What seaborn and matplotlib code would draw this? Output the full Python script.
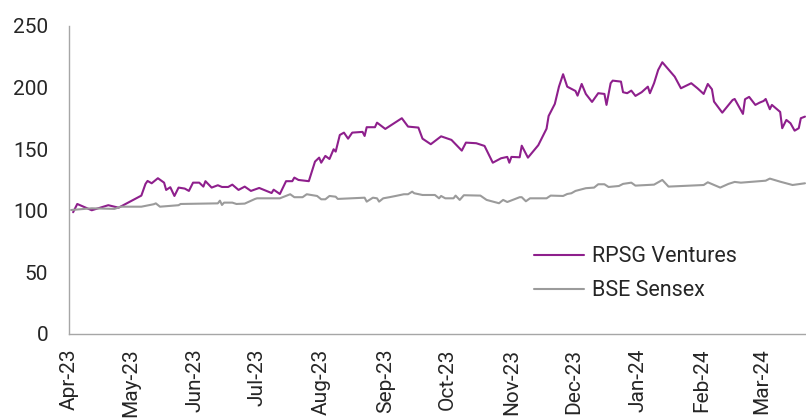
import matplotlib
matplotlib.use("Agg")
import matplotlib.pyplot as plt
import matplotlib.dates as mdates
from matplotlib.lines import Line2D
import pandas as pd
import seaborn as sns

# RPSG Ventures vs BSE Sensex, rebased to 100
rpsg_dates = [
    "2023-04-03", "2023-04-05", "2023-04-12", "2023-04-20", "2023-04-25", "2023-05-06",
    "2023-05-08", "2023-05-09", "2023-05-11", "2023-05-14", "2023-05-17", "2023-05-18",
    "2023-05-20", "2023-05-22", "2023-05-24", "2023-05-27", "2023-05-29", "2023-05-31",
    "2023-06-03", "2023-06-05", "2023-06-06", "2023-06-09", "2023-06-12", "2023-06-14",
    "2023-06-17", "2023-06-19", "2023-06-22", "2023-06-25", "2023-06-28", "2023-07-02",
    "2023-07-08", "2023-07-09", "2023-07-12", "2023-07-15", "2023-07-18", "2023-07-19",
    "2023-07-21", "2023-07-26", "2023-07-29", "2023-07-31", "2023-08-01", "2023-08-03",
    "2023-08-05", "2023-08-07", "2023-08-08", "2023-08-10", "2023-08-12", "2023-08-14",
    "2023-08-16", "2023-08-21", "2023-08-22", "2023-08-23", "2023-08-27", "2023-08-28",
    "2023-09-01", "2023-09-09", "2023-09-12", "2023-09-17", "2023-09-19", "2023-09-23",
    "2023-09-28", "2023-10-03", "2023-10-08", "2023-10-10", "2023-10-15", "2023-10-19",
    "2023-10-23", "2023-10-27", "2023-10-30", "2023-10-31", "2023-11-01", "2023-11-05",
    "2023-11-06", "2023-11-09", "2023-11-14", "2023-11-18", "2023-11-19", "2023-11-22",
    "2023-11-24", "2023-11-26", "2023-11-28", "2023-12-02", "2023-12-03", "2023-12-05",
    "2023-12-07", "2023-12-10", "2023-12-13", "2023-12-16", "2023-12-17", "2023-12-19",
    "2023-12-20", "2023-12-24", "2023-12-25", "2023-12-27", "2023-12-29", "2023-12-31",
    "2024-01-03", "2024-01-06", "2024-01-07", "2024-01-09", "2024-01-11", "2024-01-13",
    "2024-01-19", "2024-01-22", "2024-01-27", "2024-01-30", "2024-02-02", "2024-02-04",
    "2024-02-06", "2024-02-07", "2024-02-11", "2024-02-16", "2024-02-17", "2024-02-21",
    "2024-02-22", "2024-02-24", "2024-02-27", "2024-02-29", "2024-03-02", "2024-03-03",
    "2024-03-05", "2024-03-06", "2024-03-10", "2024-03-11", "2024-03-13", "2024-03-15",
    "2024-03-17", "2024-03-19", "2024-03-20", "2024-03-22",
]
rpsg_values = [
    98.8, 105.5, 100.4, 104.5, 102.5, 112.3,
    121.8, 124.2, 122.3, 126.4, 122.8, 116.9,
    119.1, 112.0, 118.8, 118.0, 116.1, 122.8,
    122.8, 119.6, 124.0, 118.8, 120.7, 119.3,
    119.3, 121.2, 116.9, 119.6, 116.1, 118.5,
    114.4, 117.1, 113.6, 124.0, 124.0, 126.9,
    125.0, 124.0, 139.9, 143.1, 139.0, 144.5,
    142.0, 149.9, 148.0, 161.5, 163.4, 158.5,
    163.4, 164.0, 160.7, 167.8, 167.8, 171.5,
    166.4, 175.1, 168.3, 167.5, 158.5, 154.0,
    160.4, 157.5, 148.8, 155.3, 154.8, 152.6,
    139.0, 142.6, 143.7, 139.0, 143.7, 143.4,
    152.8, 143.1, 153.2, 166.6, 176.9, 186.7,
    200.7, 210.8, 200.7, 197.2, 193.4, 202.9,
    194.8, 188.3, 195.4, 194.8, 185.9, 203.5,
    205.6, 204.8, 196.2, 195.4, 197.5, 193.2,
    196.2, 200.7, 195.4, 203.5, 214.3, 220.5,
    208.8, 199.4, 203.5, 199.4, 194.8, 202.9,
    198.6, 188.6, 179.6, 189.9, 190.7, 178.6,
    190.5, 192.4, 185.9, 187.7, 189.1, 190.7,
    182.4, 185.9, 180.2, 167.0, 173.7, 171.0,
    165.0, 167.0, 175.1, 176.4,
]

sensex_dates = [
    "2023-04-02", "2023-04-12", "2023-04-23", "2023-04-26", "2023-05-06", "2023-05-12",
    "2023-05-13", "2023-05-15", "2023-05-24", "2023-05-25", "2023-06-12", "2023-06-13",
    "2023-06-14", "2023-06-15", "2023-06-19", "2023-06-21", "2023-06-25", "2023-06-30",
    "2023-07-01", "2023-07-12", "2023-07-17", "2023-07-19", "2023-07-23", "2023-07-25",
    "2023-07-30", "2023-08-01", "2023-08-03", "2023-08-05", "2023-08-08", "2023-08-09",
    "2023-08-22", "2023-08-23", "2023-08-26", "2023-08-28", "2023-08-29", "2023-08-31",
    "2023-09-03", "2023-09-06", "2023-09-10", "2023-09-12", "2023-09-14", "2023-09-15",
    "2023-09-19", "2023-09-25", "2023-09-27", "2023-09-28", "2023-09-30", "2023-10-04",
    "2023-10-05", "2023-10-07", "2023-10-09", "2023-10-17", "2023-10-20", "2023-10-26",
    "2023-10-28", "2023-10-30", "2023-11-05", "2023-11-06", "2023-11-08", "2023-11-10",
    "2023-11-18", "2023-11-20", "2023-11-26", "2023-11-28", "2023-11-30", "2023-12-02",
    "2023-12-07", "2023-12-11", "2023-12-13", "2023-12-16", "2023-12-18", "2023-12-23",
    "2023-12-25", "2023-12-29", "2023-12-31", "2024-01-09", "2024-01-13", "2024-01-16",
    "2024-02-02", "2024-02-04", "2024-02-10", "2024-02-14", "2024-02-17", "2024-02-20",
    "2024-03-03", "2024-03-05", "2024-03-10", "2024-03-16", "2024-03-22",
]
sensex_values = [
    100.6, 102.0, 101.5, 103.3, 103.3, 105.3,
    106.0, 103.3, 104.5, 105.5, 106.0, 108.2,
    104.7, 106.6, 106.6, 105.5, 105.8, 109.6,
    110.1, 110.1, 113.4, 111.0, 111.0, 113.4,
    112.0, 109.3, 109.3, 112.0, 111.4, 109.6,
    110.6, 107.4, 110.6, 110.1, 107.4, 110.1,
    111.0, 112.0, 113.4, 113.4, 115.5, 114.2,
    112.8, 112.8, 110.1, 112.0, 110.1, 110.1,
    112.3, 108.8, 112.6, 112.3, 108.8, 106.1,
    108.8, 107.1, 111.0, 111.0, 107.7, 110.1,
    110.1, 112.3, 112.0, 113.6, 114.2, 116.1,
    118.3, 118.8, 121.5, 121.5, 119.3, 120.1,
    121.8, 122.8, 120.4, 121.2, 125.0, 119.6,
    120.9, 123.1, 118.8, 121.8, 123.4, 122.8,
    124.4, 126.1, 123.6, 120.9, 122.3,
]

series_names = ["RPSG Ventures", "BSE Sensex"]
colors = ["#8E1F8C", "#9B9B9B"]

df = pd.concat([
    pd.DataFrame({"date": pd.to_datetime(rpsg_dates), "value": rpsg_values, "series": series_names[0]}),
    pd.DataFrame({"date": pd.to_datetime(sensex_dates), "value": sensex_values, "series": series_names[1]}),
])

sns.set_style("white")
plt.rcParams["font.family"] = ["Roboto", "DejaVu Sans"]

text_color = "#262626"
axis_color = "#A6A6A6"

fig = plt.figure(figsize=(8.06, 4.18), dpi=100)
ax = fig.add_axes([0.0856, 0.201, 0.9144, 0.737])

sns.lineplot(data=df, x="date", y="value", hue="series", hue_order=series_names,
             palette=colors, linewidth=1.5, legend=False, ax=ax)

ax.set_ylim(0, 250)
ax.set_yticks([0, 50, 100, 150, 200, 250])
ax.set_xlim(pd.Timestamp("2023-04-01"), pd.Timestamp("2024-03-22 12:00"))
ax.xaxis.set_major_locator(mdates.MonthLocator())
ax.xaxis.set_major_formatter(mdates.DateFormatter("%b-%y"))
ax.set_xlabel("")
ax.set_ylabel("")

for side in ["top", "right"]:
    ax.spines[side].set_visible(False)
for side in ["left", "bottom"]:
    ax.spines[side].set_color(axis_color)
    ax.spines[side].set_linewidth(1.0)

ax.tick_params(axis="y", direction="inout", length=12, width=1, color=axis_color,
               labelsize=15, labelcolor=text_color, pad=9)
ax.tick_params(axis="x", direction="inout", length=11, width=1, color=axis_color,
               labelsize=15, labelcolor=text_color, pad=5, labelrotation=90)

handles = [Line2D([], [], color=c, linewidth=1.5) for c in colors]
ax.legend(handles, series_names, loc="center left", bbox_to_anchor=(0.631, 0.196),
          frameon=False, fontsize=15.5, handlelength=2.3, handletextpad=0.4,
          labelspacing=0.6, borderpad=0, borderaxespad=0, labelcolor=text_color)

fig.savefig("out.png", dpi=100)
